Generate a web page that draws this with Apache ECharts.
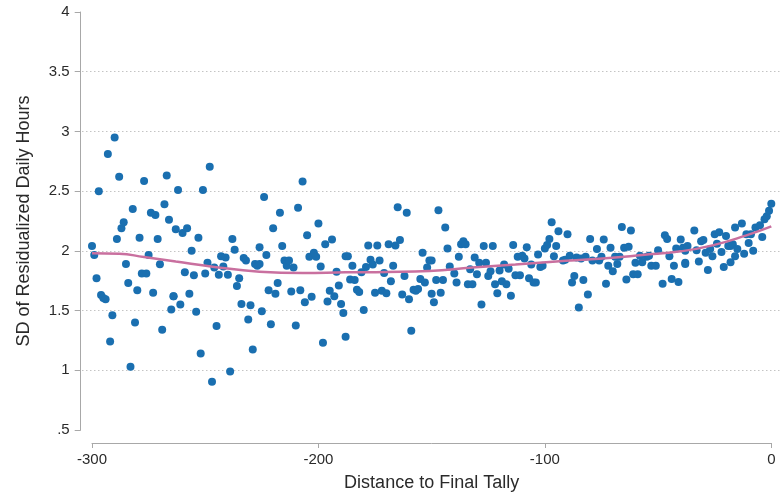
<!DOCTYPE html>
<html>
<head>
<meta charset="utf-8">
<script src="https://cdn.jsdelivr.net/npm/echarts@6/dist/echarts.min.js"></script>
<style>
html,body{margin:0;padding:0;background:#fff;}
#chart{width:782px;height:500px;}
</style>
</head>
<body>
<div id="chart"></div>
<script>
// Scatter: distance to final tally vs SD of residualized daily hours
const distance = [
-300,-299,-298,-297,-296,-295,-294,-293,-292,-291,-290,-289,-288,-287,-286,-285,-284,-283,-282,-281,
-280,-279,-278,-277,-276,-275,-274,-273,-272,-271,-270,-269,-268,-267,-266,-265,-264,
-263,-262,-261,-260,-259,-258,-257,-256,-255,-254,-253,-252,-251,-250,-249,-248,-247,-246,-245,-244,
-243,-242,-241,-240,-239,-238,-237,-236,-235,-234,-233,-232,-231,-230,-229,-228,-227,-226,-225,
-224,-223,-222,-221,-220,-219,-218,-217,-216,-215,-214,-213,-212,-211,-210,-209,-208,-207,-206,
-205,-204,-203,-202,-201,-200,-199,-198,-197,-196,-195,-194,-193,-192,-191,-190,-189,-188,
-187,-186,-185,-184,-183,-182,-181,-180,-179,-178,-177,-176,-175,-174,-173,-172,-171,-170,-169,
-168,-167,-166,-165,-164,-163,-162,-161,-160,-159,-158,-157,-156,-155,-154,-153,-152,-151,-150,
-149,-148,-147,-146,-145,-144,-143,-142,-140,-139,-138,-137,-136,-135,-134,-133,-132,-131,-130,
-129,-128,-127,-126,-125,-124,-123,-122,-121,-120,-119,-118,-117,-116,-115,-114,-113,
-112,-111,-110,-109,-108,-107,-106,-105,-104,-103,-102,-101,-100,-99,-98,-97,-96,-95,-94,
-92,-91,-90,-89,-88,-87,-86,-85,-84,-83,-82,-81,-80,-79,-77,-76,
-75,-74,-73,-72,-71,-70,-69,-68,-67,-66,-65,-64,-63,-62,-61,-60,-59,-58,-57,-55,-54,-53,
-51,-50,-48,-47,-46,-45,-44,-43,-42,-41,-40,-39,-38,-38,-38,-37,-34,-33,-32,-31,-30,-29,-28,
-27,-26,-25,-24,-23,-22,-21,-20,-19,-18,-18,-17,-16,-16,-15,-13,-12,-11,-10,-9,-8,-7,-5,-4,-3,-2,-1,0,
-188,-226,-150,-264
];
const sdHours = [
2.04,1.965,1.77,2.50,1.63,1.605,1.595,2.81,1.24,1.46,2.95,2.10,2.62,2.19,2.24,1.89,1.73,1.03,2.35,1.40,
1.67,2.11,1.81,2.585,1.81,1.965,2.32,1.65,2.30,2.10,1.887,1.34,2.39,2.63,2.26,1.51,1.62,
2.18,2.51,1.55,2.15,1.82,2.19,1.64,2.00,1.795,1.49,2.11,1.14,2.51,1.81,1.90,2.705,0.905,1.86,1.37,1.80,
1.955,1.87,1.945,1.80,0.99,2.10,2.01,1.705,1.77,1.555,1.94,1.92,1.425,1.545,1.175,1.89,1.875,2.03,1.495,
2.45,1.965,1.67,1.385,2.19,1.64,1.73,2.32,2.04,1.92,1.875,1.92,1.66,1.86,1.375,2.36,1.67,2.58,1.57,
2.13,1.95,1.615,1.985,1.95,2.23,1.87,1.23,2.055,1.575,1.665,2.095,1.62,1.825,1.71,1.555,1.48,1.28,
1.955,1.76,1.875,1.755,1.675,1.655,1.82,1.505,1.865,2.045,1.925,1.885,1.65,2.045,1.92,1.665,1.815,1.645,2.055,
1.745,1.875,2.045,2.365,2.09,1.635,1.79,2.32,1.595,1.33,1.675,1.665,1.68,1.765,1.985,1.735,1.86,1.92,1.64,
1.57,1.755,2.34,1.65,1.755,2.195,2.02,1.87,1.81,1.735,1.95,2.055,2.08,2.055,1.72,1.845,1.72,1.945,1.805,
1.90,1.55,2.04,1.90,1.79,1.83,2.04,1.72,1.645,1.835,1.745,1.885,1.72,1.85,1.625,2.05,1.795,
1.95,1.795,1.96,1.935,2.03,1.77,1.885,1.735,1.735,1.97,1.865,1.875,2.02,2.05,2.10,2.24,1.955,2.04,2.165,
1.92,1.925,2.14,1.96,1.735,1.79,1.945,1.525,1.935,1.755,1.95,1.635,2.10,1.92,2.015,1.92,
1.95,2.095,1.725,1.875,2.025,1.83,1.95,1.89,1.95,2.20,2.025,1.76,2.035,2.17,1.805,1.90,1.805,1.96,1.905,1.95,1.96,1.875,
1.875,2.005,1.725,2.13,2.10,1.955,1.765,1.875,2.02,1.74,2.095,2.025,1.90,2.00,1.89,2.04,2.17,2.005,1.91,2.08,2.09,1.985,1.84,
2.015,1.955,2.14,2.06,2.155,1.99,1.865,2.125,2.04,2.04,1.905,2.055,2.195,1.955,2.015,2.23,1.975,2.14,2.065,2.14,2.00,2.195,2.215,2.115,2.265,2.29,2.335,2.395,
1.955,1.89,1.92,1.62
];
// Lowess fit line
const fitDistance = [-300,-288,-277,-263,-246,-226,-207,-188,-170,-151,-132,-113,-95,-76,-57,-40,-26,-11,0];
const fitSD = [1.98,1.976,1.948,1.91,1.865,1.826,1.814,1.82,1.823,1.831,1.86,1.885,1.91,1.934,1.965,1.996,2.046,2.13,2.205];
// Tick labels
const xTickValues = [-300,-200,-100,0];
const yTickValues = [0.5,1,1.5,2,2.5,3,3.5,4];
const yTickLabels = ['.5','1','1.5','2','2.5','3','3.5','4'];

const font = 'Liberation Sans, Arial, Helvetica, sans-serif';
const textColor = '#2a2a2a';
const axisColor = '#a8a8a8';

const scatterData = distance.map((d, i) => [d, sdHours[i]]);
const fitData = fitDistance.map((d, i) => [d, fitSD[i]]);

const chart = echarts.init(document.getElementById('chart'), null, {renderer: 'canvas'});
chart.setOption({
  animation: false,
  backgroundColor: '#ffffff',
  grid: [
    {left: 92, right: 10.7, top: 12, bottom: 70},
    {left: 82, right: 2, top: 12, bottom: 70}
  ],
  xAxis: [
    {
      gridIndex: 0, type: 'value', min: xTickValues[0], max: xTickValues[xTickValues.length - 1], interval: 100,
      offset: 13,
      axisLine: {show: true, onZero: false, lineStyle: {color: axisColor, width: 1}},
      axisTick: {show: true, length: 5, lineStyle: {color: axisColor, width: 1}},
      axisLabel: {fontSize: 15, color: textColor, margin: 9, fontFamily: font},
      splitLine: {show: false},
      name: 'Distance to Final Tally', nameLocation: 'middle', nameGap: 31,
      nameTextStyle: {fontSize: 18, color: textColor, fontFamily: font}
    },
    {gridIndex: 1, type: 'value', min: 0, max: 1, show: false}
  ],
  yAxis: [
    {
      gridIndex: 0, type: 'value', min: yTickValues[0], max: yTickValues[yTickValues.length - 1], interval: 0.5,
      offset: 11.3,
      axisLine: {show: true, onZero: false, lineStyle: {color: axisColor, width: 1}},
      axisTick: {show: true, length: 6, lineStyle: {color: axisColor, width: 1}},
      axisLabel: {
        fontSize: 15, color: textColor, margin: 11, fontFamily: font,
        formatter: v => { const i = yTickValues.findIndex(t => Math.abs(t - v) < 1e-9); return i >= 0 ? yTickLabels[i] : ''; }
      },
      splitLine: {show: false},
      name: 'SD of Residualized Daily Hours', nameLocation: 'middle', nameGap: 48,
      nameTextStyle: {fontSize: 18, color: textColor, fontFamily: font}
    },
    {
      gridIndex: 1, type: 'value', min: 0.5, max: 4, interval: 0.5,
      axisLine: {show: false, onZero: false}, axisTick: {show: false}, axisLabel: {show: false},
      splitLine: {show: true, showMinLine: false, showMaxLine: false, lineStyle: {color: '#c4c4c4', width: 1, type: [1.5, 2.5]}}
    }
  ],
  series: [
    {
      type: 'scatter', xAxisIndex: 0, yAxisIndex: 0, data: scatterData,
      symbol: 'circle', symbolSize: 8,
      itemStyle: {color: '#1a6fb0', opacity: 1}, z: 2
    },
    {
      type: 'line', xAxisIndex: 0, yAxisIndex: 0, data: fitData,
      smooth: true, symbol: 'none',
      lineStyle: {color: '#c9709f', width: 2.5}, z: 3
    }
  ]
});
</script>
</body>
</html>
